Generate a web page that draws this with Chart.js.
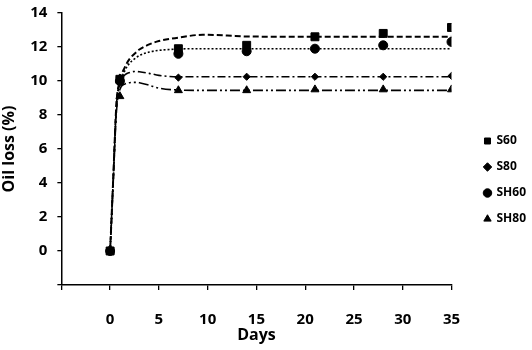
<!DOCTYPE html>
<html>
<head>
<meta charset="utf-8">
<script src="https://cdn.jsdelivr.net/npm/chart.js@4.4.1/dist/chart.umd.min.js"></script>
<style>
  html, body { margin:0; padding:0; background:#fff; }
  #wrap { width:532px; height:350px; }
</style>
</head>
<body>
<div id="wrap"><canvas id="oilChart" width="532" height="350"></canvas></div>
<script>
/* ── measured points ── */
const DAYS = [0, 1, 7, 14, 21, 28, 35];
const S60  = [0, 10.1, 11.9, 12.1, 12.6, 12.8, 13.15];
const S80  = [0, 10.2, 10.2, 10.25, 10.25, 10.25, 10.3];
const SH60 = [0, 10.0, 11.6, 11.75, 11.9, 12.1, 12.3];
const SH80 = [0, 9.1, 9.45, 9.45, 9.5, 9.5, 9.5];

/* ── fitted trend curves ── */
const FIT_DAYS = [0, 0.3, 0.65, 1, 1.5, 2, 2.5, 3, 4, 5, 7, 9.5, 12, 14, 21, 28, 35];
const S60_FIT  = [0, 4.0, 8.7, 10.0, 10.8, 11.3, 11.6, 11.85, 12.15, 12.35, 12.55, 12.72, 12.68, 12.62, 12.6, 12.6, 12.6];
const SH60_FIT = [0, 3.9, 8.5, 9.8, 10.6, 11.05, 11.3, 11.5, 11.7, 11.8, 11.88, 11.9, 11.9, 11.9, 11.9, 11.9, 11.9];
const S80_FIT  = [0, 4.0, 8.6, 9.9, 10.35, 10.5, 10.56, 10.54, 10.45, 10.33, 10.25, 10.25, 10.25, 10.25, 10.25, 10.25, 10.25];
const SH80_FIT = [0, 3.8, 8.2, 9.5, 9.82, 9.9, 9.92, 9.9, 9.75, 9.58, 9.47, 9.45, 9.45, 9.45, 9.45, 9.45, 9.45];

const X_TICKS = [0, 5, 10, 15, 20, 25, 30, 35];
const Y_TICKS = [0, 2, 4, 6, 8, 10, 12, 14];

const FONT = '"Open Sans", "Noto Sans", sans-serif';
const pts = (xs, ys) => xs.map((x, i) => ({ x, y: ys[i] }));

function marks(label, ys, style, r) {
  return { label, data: pts(DAYS, ys), showLine:false, pointStyle:style, pointRadius:r,
           pointBackgroundColor:'#000', pointBorderColor:'#000', borderColor:'#000', backgroundColor:'#000' };
}
function fit(ys, dash, w) {
  return { label:'fit', data: pts(FIT_DAYS, ys), showLine:true, pointRadius:0, borderColor:'#000', borderWidth:w,
           borderDash:dash, cubicInterpolationMode:'monotone', fill:false };
}

const tickLbl = v => (v < 0 ? '' : v);

// legend sits further right than chart.js would put it, so nudge it after layout
const legendNudge = {
  id:'legendNudge',
  afterLayout(chart, args, opts) {
    const lg = chart.legend;
    if (!lg) return;
    lg.left += opts.dx; lg.right += opts.dx;
  }
};

new Chart(document.getElementById('oilChart'), {
  type:'scatter',
  data:{
    datasets:[
      fit(S60_FIT,  [6,3], 2),
      fit(SH60_FIT, [2,2], 1.6),
      fit(S80_FIT,  [8,3,2,3], 1.6),
      fit(SH80_FIT, [10,3,2,3,2,3], 1.6),
      marks('S60',  S60,  'rect', 5.6),
      marks('S80',  S80,  'rectRot', 3.6),
      marks('SH60', SH60, 'circle', 4.5),
      marks('SH80', SH80, 'triangle', 4.6),
    ]
  },
  plugins:[legendNudge],
  options:{
    responsive:false, animation:false,
    layout:{ padding:{ left:0, right:15, top:10, bottom:0 } },
    plugins:{
      tooltip:{ enabled:false },
      legendNudge:{ dx:19 },
      legend:{
        position:'right',
        labels:{
          filter: item => item.text !== 'fit',
          usePointStyle:true, boxWidth:6, boxHeight:6, padding:14,
          color:'#000', font:{ family:FONT, size:12, weight:'bold' }
        }
      }
    },
    scales:{
      x:{
        type:'linear', min:-5, max:35,
        afterBuildTicks: ax => { ax.ticks = [-5, ...X_TICKS].map(v => ({ value:v })); },
        afterFit: ax => { ax.height = 65; },
        ticks:{ callback:tickLbl, color:'#000', padding:21, maxRotation:0, font:{ family:FONT, size:15, weight:'bold' } },
        grid:{ drawOnChartArea:false, tickLength:5, color:'#000', lineWidth:1.3 },
        border:{ color:'#000', width:1.5 },
        title:{ display:true, text:'Days', color:'#000', padding:{ top:0, bottom:5 }, font:{ family:FONT, size:16, weight:'bold' } }
      },
      y:{
        type:'linear', min:-2, max:14,
        afterBuildTicks: ax => { ax.ticks = [-2, ...Y_TICKS].map(v => ({ value:v })); },
        afterFit: ax => { ax.paddingTop = 13; },
        ticks:{ callback:tickLbl, color:'#000', padding:10, font:{ family:FONT, size:15, weight:'bold' } },
        grid:{ drawOnChartArea:false, tickLength:4, color:'#000', lineWidth:1.3 },
        border:{ color:'#000', width:1.5 },
        title:{ display:true, text:'Oil loss (%)', color:'#000', padding:{ top:0, bottom:1 }, font:{ family:FONT, size:16, weight:'bold' } }
      }
    }
  }
});
</script>
</body>
</html>
